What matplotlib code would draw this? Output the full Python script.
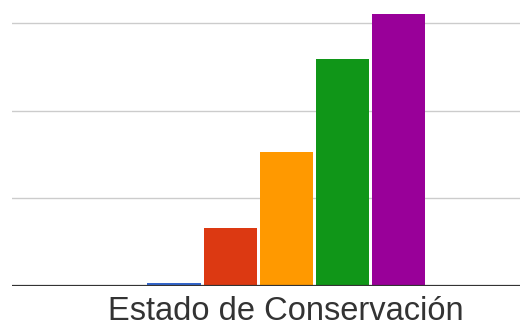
import matplotlib.pyplot as plt

plt.rcParams['font.family'] = ['Liberation Sans', 'DejaVu Sans']

# one category, five series (Google-style grouped column)
series = ["1", "2", "3", "4", "5"]
values = [0.3, 6.6, 15.3, 25.9, 31.1]
grid_ticks = [10, 20, 30]
x_title = "Estado de Conservación"

colors = ["#3366cc", "#dc3912", "#ff9900", "#109618", "#990099"]

fig = plt.figure(figsize=(5.2, 3.22), dpi=100)
ax = fig.add_axes([12 / 520, 36 / 322, 508 / 520, 286 / 322])

xs = list(range(len(values)))
ax.bar(xs, values, width=0.95, color=colors, zorder=2)

for t in grid_ticks:
    ax.axhline(t, color="#cccccc", lw=1.0, zorder=1)
ax.axhline(0, color="#333333", lw=1.6, zorder=3)

ax.set_xlim(-2.883, 6.157)
ax.set_ylim(0, 32.65)
ax.axis("off")

fig.text(285.5 / 520, 2.5 / 322, x_title, ha="center", va="baseline",
         fontsize=23.5, color="#333333")

fig.savefig("out.png", dpi=100)
